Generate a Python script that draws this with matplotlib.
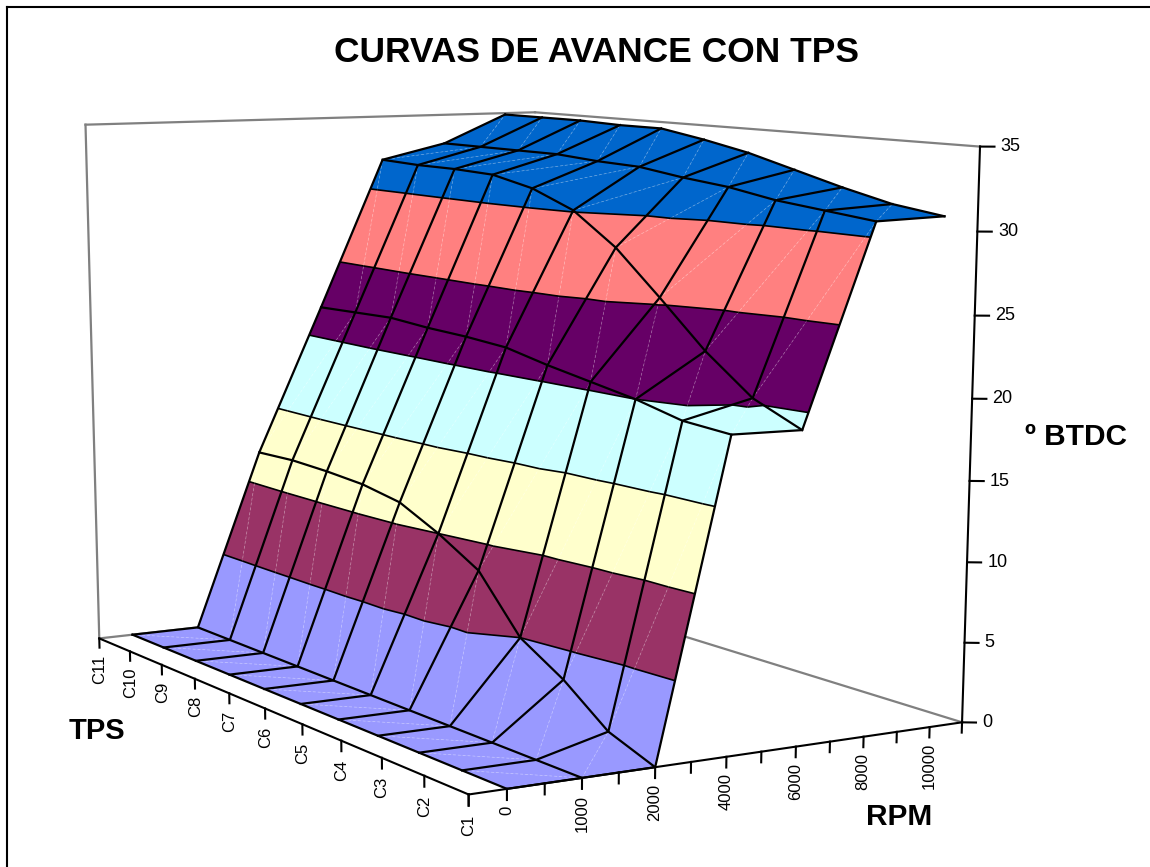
import numpy as np
import matplotlib
matplotlib.use('Agg')
import matplotlib.pyplot as plt
from matplotlib.lines import Line2D
from mpl_toolkits.mplot3d import proj3d
from mpl_toolkits.mplot3d.art3d import Poly3DCollection, Line3DCollection

plt.rcParams['font.family'] = ['Liberation Sans', 'DejaVu Sans']

rpm_labels = ['0', '1000', '2000', '4000', '6000', '8000', '10000']
tps_labels = ['C1', 'C2', 'C3', 'C4', 'C5', 'C6', 'C7', 'C8', 'C9', 'C10', 'C11']
z_ticks = [0, 5, 10, 15, 20, 25, 30, 35]

# advance in degrees, one list per rpm, from C11 down to C1
adv_0 = [0, 0, 0, 0, 0, 0, 0, 0, 0, 0, 0]
adv_1000 = [0, 0, 0, 0, 0, 0, 0, 0, 0, 0, 0]
adv_2000 = [12.0, 12.1, 12.0, 11.8, 11.3, 10.0, 8.4, 5.0, 3.3, 1.1, 0]
adv_4000 = [21.9, 22.0, 22.1, 21.9, 21.8, 21.6, 21.0, 20.5, 20.0, 19.3, 19.1]
adv_6000 = [32.0, 31.9, 31.9, 31.8, 31.2, 30.1, 28.1, 25.4, 22.6, 20.3, 19.0]
adv_8000 = [33.0, 33.0, 33.0, 33.0, 32.8, 32.7, 32.3, 32.0, 31.5, 31.2, 30.9]
adv_10000 = [34.9, 34.9, 34.9, 34.8, 34.8, 34.3, 33.7, 32.9, 32.1, 31.4, 31.0]

band_colors = ['#9999ff', '#993366', '#ffffcc', '#ccffff', '#660066', '#ff8080', '#0066cc']

Z = np.array([adv_0, adv_1000, adv_2000, adv_4000, adv_6000, adv_8000, adv_10000])[:, ::-1]
nx, ny = Z.shape


def clip(poly, lo, hi):
    # cut a polygon to lo <= z <= hi
    for level, sign in ((lo, 1), (hi, -1)):
        out = []
        for a, b in zip(poly, poly[1:] + poly[:1]):
            da, db = sign * (a[2] - level), sign * (b[2] - level)
            if da >= 0:
                out.append(a)
            if da * db < 0:
                t = da / (da - db)
                out.append(tuple(a[k] + t * (b[k] - a[k]) for k in range(3)))
        poly = out
        if not poly:
            break
    return poly


def contour(tri, level):
    # where a triangle crosses one z level
    pts = []
    for a, b in zip(tri, tri[1:] + tri[:1]):
        if (a[2] >= level) != (b[2] >= level):
            t = (level - a[2]) / (b[2] - a[2])
            pts.append(tuple(a[k] + t * (b[k] - a[k]) for k in range(3)))
    return pts


fig = plt.figure(figsize=(11.5, 8.67), dpi=100)
ax = fig.add_axes([0, 0, 1, 1], projection='3d', computed_zorder=False)
ax.set_xlim(-0.5, 6.5)
ax.set_ylim(0, 10)
ax.set_zlim(0, 35)
ax.view_init(elev=9.8518, azim=-120.8189, roll=-0.0205)
ax.set_proj_type('persp', focal_length=0.5361)
ax.set_box_aspect((1, 1.4443, 1.2803))
ax.set_axis_off()

# the reference is wider than it is tall, so the 3d box is stretched in x
sy, sx, cx, cy = 4908.36, 4908.36 * 1.2724, 505.92, 411.33
vl = ax.viewLim
ax.apply_aspect = lambda position=None: None
ax.set_position([(cx + sx * vl.x0) / 1150, (867 - cy + sy * vl.y0) / 867,
                 sx * vl.width / 1150, sy * vl.height / 867])
M = ax.get_proj()


def label(x, y, z, text, **kw):
    vx, vy, _ = proj3d.proj_transform(x, y, z, M)
    ax.text2D(vx, vy, text, transform=ax.transData, zorder=6, **kw)


# walls and floor edges
grey = '#808080'
for xs, ys, zs in [([-0.5, -0.5], [10, 10], [0, 35]),
                   ([-0.5, 6.5], [10, 10], [35, 35]),
                   ([6.5, 6.5], [10, 0], [35, 35]),
                   ([-0.5, 6.5], [10, 10], [0, 0]),
                   ([6.5, 6.5], [10, 0], [0, 0])]:
    ax.plot(xs, ys, zs, color=grey, lw=1.6, zorder=1, clip_on=False)

# surface, split in triangles and cut at every 5 degrees
polys, cols, seams, bands = [], [], [], []
for i in range(nx - 1):
    for j in range(ny - 1):
        p00 = (i, j, Z[i, j])
        p10 = (i + 1, j, Z[i + 1, j])
        p01 = (i, j + 1, Z[i, j + 1])
        p11 = (i + 1, j + 1, Z[i + 1, j + 1])
        if i % 2:
            seams.append((p00, p11))
            tris = ([p00, p10, p11], [p00, p11, p01])
        else:
            seams.append((p01, p10))
            tris = ([p00, p10, p01], [p10, p11, p01])
        for tri in tris:
            for b, col in enumerate(band_colors):
                part = clip(list(tri), b * 5, (b + 1) * 5)
                if len(part) > 2:
                    polys.append(part)
                    cols.append(col)
                if b > 0:
                    seg = contour(list(tri), b * 5)
                    if len(seg) == 2:
                        bands.append(seg)
surf = Poly3DCollection(polys, facecolors=cols, edgecolors=cols, linewidths=0.3, zorder=2)
ax.add_collection3d(surf, autolim=False)

# faint seams along the facet diagonals
for a, b in seams:
    ax.plot(*zip(a, b), color='white', lw=0.5, ls=(0, (4, 3)), alpha=0.4, zorder=3, clip_on=False)

# black lines between the colour bands
ax.add_collection3d(Line3DCollection(bands, colors='black', linewidths=1.2, zorder=4), autolim=False)

# mesh
for i in range(nx):
    ax.plot([i] * ny, range(ny), Z[i], color='black', lw=1.6, zorder=4, clip_on=False)
for j in range(ny):
    ax.plot(range(nx), [j] * nx, Z[:, j], color='black', lw=1.6, zorder=4, clip_on=False)

# axes in front
ax.plot([-0.5, 6.5], [0, 0], [0, 0], color='black', lw=1.5, zorder=5, clip_on=False)
ax.plot([-0.5, -0.5], [0, 10], [0, 0], color='black', lw=1.5, zorder=5, clip_on=False)
ax.plot([6.5, 6.5], [0, 0], [0, 35], color='black', lw=1.5, zorder=5, clip_on=False)

for k in range(15):
    x = -0.5 + 0.5 * k
    ax.plot([x, x], [0, 0], [0, -0.65], color='black', lw=1.5, zorder=5, clip_on=False)
for i, lab in enumerate(rpm_labels):
    label(i, 0, -1.0, lab, rotation=90, ha='center', va='top', fontsize=12)
for j, lab in enumerate(tps_labels):
    ax.plot([-0.5, -0.5], [j, j], [0, -0.65], color='black', lw=1.5, zorder=5, clip_on=False)
    label(-0.5, j, -1.15, lab, rotation=90, ha='center', va='top', fontsize=12)
for z in z_ticks:
    ax.plot([6.5, 6.64], [0, -0.095], [z, z], color='black', lw=1.5, zorder=5, clip_on=False)
    label(6.7, -0.135, z, str(z), ha='left', va='center', fontsize=13)

fig.text(596 / 1150, 1 - 52 / 867, 'CURVAS DE AVANCE CON TPS', ha='center', va='center',
         fontsize=25.5, fontweight='bold')
fig.text(97 / 1150, 1 - 731 / 867, 'TPS', ha='center', va='center', fontsize=21, fontweight='bold')
fig.text(899 / 1150, 1 - 817 / 867, 'RPM', ha='center', va='center', fontsize=21.5, fontweight='bold')
fig.text(1076 / 1150, 1 - 437 / 867, 'º BTDC', ha='center', va='center', fontsize=21.5, fontweight='bold')

# only the top and left of the chart frame are inside the picture
fig.add_artist(Line2D([7 / 1150, 7 / 1150], [0, 1 - 7 / 867], color='black', lw=1.5))
fig.add_artist(Line2D([7 / 1150, 1], [1 - 7 / 867, 1 - 7 / 867], color='black', lw=1.5))

fig.savefig('out.png', dpi=100)
